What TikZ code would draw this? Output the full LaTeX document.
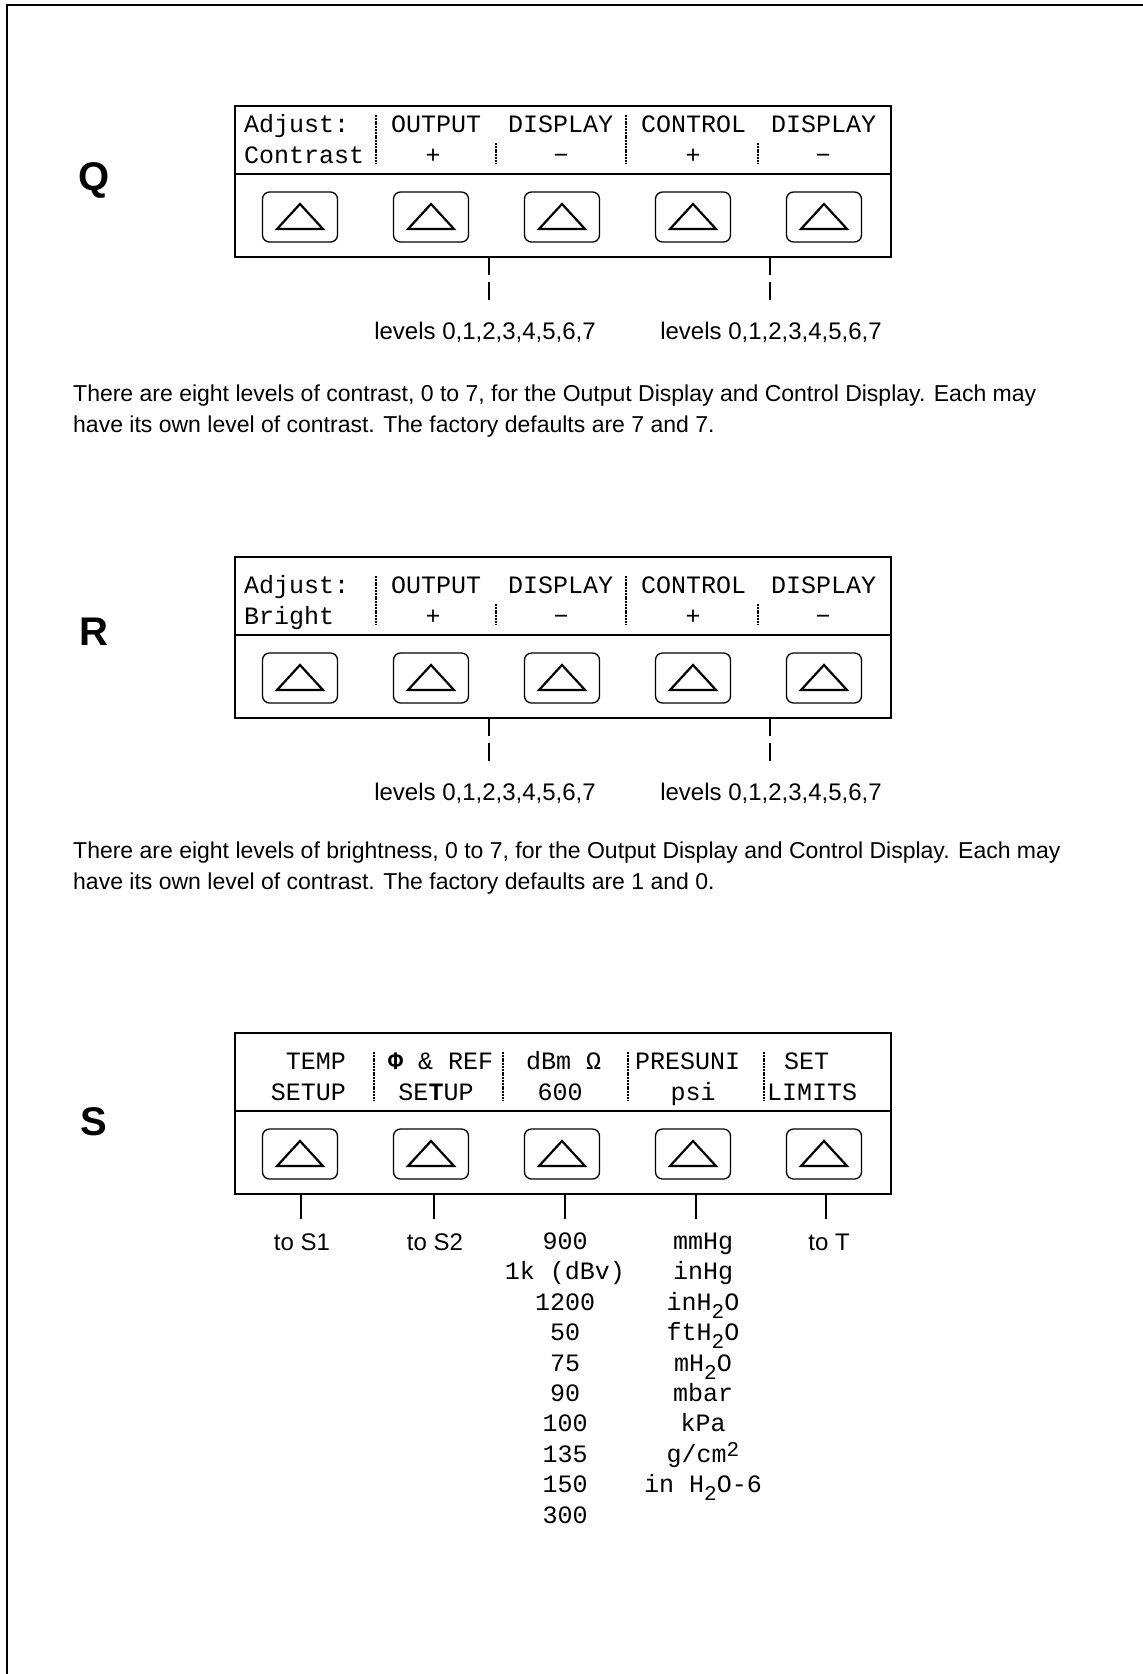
\documentclass[tikz,border=0pt]{standalone}
\usepackage{fontspec}
\setmainfont{Liberation Sans}
\newfontfamily\lcd{Liberation Mono}
\usetikzlibrary{calc}
\newcommand\keypanel[3]{%
  \begin{scope}[shift={(0,#2)}]
    \draw[panelbox] (235,#3) rectangle (891,161);
    \draw[panelbox] (235,78) -- (891,78);
    \foreach \k/\x in {1/300,2/431,3/562,4/693,5/824}{
      \node[keycap] (#1\k) at (\x,121) {};
      \draw[tri] ({\x-23},133) -- ({\x+23},133) -- (\x,108) -- cycle;
    }
  \end{scope}}
\newcommand\subtwo{\raisebox{-8pt}{\fontsize{21}{21}\selectfont 2}}
\newcommand\suptwo{\raisebox{6pt}{\fontsize{21}{21}\selectfont 2}}
\begin{document}
\begin{tikzpicture}[x=1pt,y=-1pt,
  frame/.style={line width=2.5pt},
  panelbox/.style={line width=2pt},
  keycap/.style={draw, line width=1.3pt, rounded corners=7pt, minimum width=75pt, minimum height=50pt, inner sep=0},
  tri/.style={line width=2.2pt, line join=miter},
  lcdt/.style={font=\lcd\fontsize{25}{25}\selectfont, inner sep=0},
  lcdw/.style={lcdt, anchor=base west},
  lcdc/.style={lcdt, anchor=base},
  lcde/.style={lcdt, anchor=base east},
  sansc/.style={font=\fontsize{24}{24}\selectfont, inner sep=0, anchor=base},
  para/.style={font=\fontsize{23}{23}\selectfont, inner sep=0, anchor=base west},
  biglbl/.style={font=\bfseries\fontsize{40}{40}\selectfont, inner sep=0},
  sepbar/.style={line width=1.6pt, dash pattern=on 2pt off 0.8pt},
  leader/.style={line width=1.2pt, dash pattern=on 18pt off 7pt},
  tickline/.style={line width=1.2pt}]
\useasboundingbox (0,0) rectangle (1143,1674);
\draw[frame] (7,1674) -- (7,5) -- (1143,5);

% ---------------- Q ----------------
\node[biglbl] (lq) at (94,180) {Q};
\keypanel{qb}{96}{10}
\begin{scope}[shift={(0,96)}]
  \node[lcdw] (qt1) at (244,36) {Adjust:};
  \node[lcdw] (qt2) at (244,67) {Contrast};
  \node[lcdw] (qt3) at (391,36) {OUTPUT};
  \node[lcdw] (qt4) at (508,36) {DISPLAY};
  \node[lcdw] (qt5) at (641,36) {CONTROL};
  \node[lcdw] (qt6) at (771,36) {DISPLAY};
  \node[lcdc] (qt7) at (433,67) {+};
  \node[lcdc] (qt8) at (561,67) {−};
  \node[lcdc] (qt9) at (693,67) {+};
  \node[lcdc] (qt10) at (823,67) {−};
  \draw[sepbar] (376,19) -- (376,67);
  \draw[sepbar] (626,19) -- (626,67);
  \draw[sepbar] (496,47) -- (496,67);
  \draw[sepbar] (758,47) -- (758,67);
\end{scope}
\coordinate (qd1) at (489,257); \coordinate (qe1) at (489,300);
\coordinate (qd2) at (770,257); \coordinate (qe2) at (770,300);
\draw[leader] (qd1) -- (qe1);
\draw[leader] (qd2) -- (qe2);
\node[sansc] (ql1) at (485,339) {levels 0,1,2,3,4,5,6,7};
\node[sansc] (ql2) at (771,339) {levels 0,1,2,3,4,5,6,7};
\node[para] (qp1) at (73,401) {There are eight levels of contrast, 0 to 7, for the Output Display and Control Display. Each may};
\node[para] (qp2) at (73,432) {have its own level of contrast. The factory defaults are 7 and 7.};

% ---------------- R ----------------
\node[biglbl] (lr) at (94,632) {R};
\keypanel{rb}{557}{0}
\begin{scope}[shift={(0,557)}]
  \node[lcdw] (rt1) at (244,36) {Adjust:};
  \node[lcdw] (rt2) at (244,67) {Bright};
  \node[lcdw] (rt3) at (391,36) {OUTPUT};
  \node[lcdw] (rt4) at (508,36) {DISPLAY};
  \node[lcdw] (rt5) at (641,36) {CONTROL};
  \node[lcdw] (rt6) at (771,36) {DISPLAY};
  \node[lcdc] (rt7) at (433,67) {+};
  \node[lcdc] (rt8) at (561,67) {−};
  \node[lcdc] (rt9) at (693,67) {+};
  \node[lcdc] (rt10) at (823,67) {−};
  \draw[sepbar] (376,19) -- (376,67);
  \draw[sepbar] (626,19) -- (626,67);
  \draw[sepbar] (496,47) -- (496,67);
  \draw[sepbar] (758,47) -- (758,67);
\end{scope}
\coordinate (rd1) at (489,718); \coordinate (re1) at (489,761);
\coordinate (rd2) at (770,718); \coordinate (re2) at (770,761);
\draw[leader] (rd1) -- (re1);
\draw[leader] (rd2) -- (re2);
\node[sansc] (rl1) at (485,800) {levels 0,1,2,3,4,5,6,7};
\node[sansc] (rl2) at (771,800) {levels 0,1,2,3,4,5,6,7};
\node[para] (rp1) at (73,858) {There are eight levels of brightness, 0 to 7, for the Output Display and Control Display. Each may};
\node[para] (rp2) at (73,889) {have its own level of contrast. The factory defaults are 1 and 0.};

% ---------------- S ----------------
\node[biglbl] (ls) at (94,1122) {S};
\keypanel{sb}{1033}{0}
\begin{scope}[shift={(0,1033)}]
  \node[lcde] (st1) at (346,36) {TEMP};
  \node[lcde] (st2) at (346,67) {SETUP};
  \node[lcdw] (st3) at (388,36) {\textbf{Φ} \& REF};
  \node[lcdc] (st4) at (436,67) {SE\textbf{T}UP};
  \node[lcdw] (st5) at (526,36) {dBm Ω};
  \node[lcdc] (st6) at (560,67) {600};
  \node[lcdw] (st7) at (635,36) {PRESUNI};
  \node[lcdc] (st8) at (693,67) {psi};
  \node[lcdw] (st9) at (784,36) {SET};
  \node[lcdw] (st10) at (767,67) {LIMITS};
  \draw[sepbar] (374,19) -- (374,67);
  \draw[sepbar] (503,19) -- (503,67);
  \draw[sepbar] (628,19) -- (628,67);
  \draw[sepbar] (764,19) -- (764,67);
\end{scope}
\foreach \k/\x in {1/301,2/434,3/565,4/696,5/826}{
  \coordinate (sd\k) at (\x,1194);
  \coordinate (se\k) at (\x,1219);
  \draw[tickline] (sd\k) -- (se\k);
}
\node[sansc] (so1) at (302,1250.6) {to S1};
\node[sansc] (so2) at (435,1250.6) {to S2};
\node[sansc] (so5) at (829,1250.6) {to T};
\foreach [count=\n from 0] \t in {900,1k (dBv),1200,50,75,90,100,135,150,300}{
  \node[lcdc] (sc\n) at (565,{1249.5+30.4*\n}) {\t};
}
\node[lcdc] (sm0) at (703,1249.5) {mmHg};
\node[lcdc] (sm1) at (703,1279.9) {inHg};
\node[lcdc] (sm2) at (703,1310.3) {inH\subtwo O};
\node[lcdc] (sm3) at (703,1340.7) {ftH\subtwo O};
\node[lcdc] (sm4) at (703,1371.1) {mH\subtwo O};
\node[lcdc] (sm5) at (703,1401.5) {mbar};
\node[lcdc] (sm6) at (703,1431.9) {kPa};
\node[lcdc] (sm7) at (703,1462.3) {g/cm\suptwo};
\node[lcdc] (sm8) at (703,1492.7) {in H\subtwo O-6};
\end{tikzpicture}
\end{document}
